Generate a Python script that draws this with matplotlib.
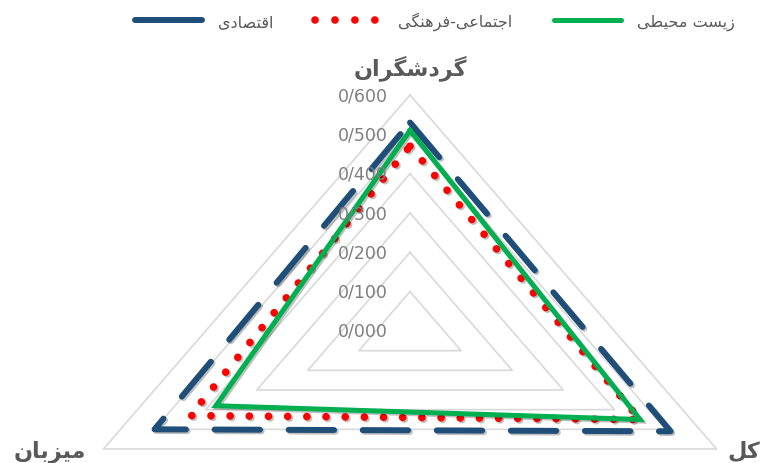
import numpy as np
import matplotlib
matplotlib.use("Agg")
import matplotlib.pyplot as plt
import matplotlib.patheffects as pe
from matplotlib.lines import Line2D

# data
categories = ["گردشگران", "کل", "میزبان"]
series_names = ["اقتصادی", "اجتماعی-فرهنگی", "زیست محیطی"]
eghtesadi = [0.53, 0.51, 0.50]
ejtemaei = [0.47, 0.45, 0.43]
zist = [0.51, 0.45, 0.38]
rings = [0.1, 0.2, 0.3, 0.4, 0.5, 0.6]
ring_labels = ["0/000", "0/100", "0/200", "0/300", "0/400", "0/500", "0/600"]

# minimal arabic/persian shaping (matplotlib does not shape text)
forms = {
    "ا": (0xFE8D, 0xFE8E, None, None),
    "ب": (0xFE8F, 0xFE90, 0xFE91, 0xFE92),
    "ت": (0xFE95, 0xFE96, 0xFE97, 0xFE98),
    "ج": (0xFE9D, 0xFE9E, 0xFE9F, 0xFEA0),
    "ح": (0xFEA1, 0xFEA2, 0xFEA3, 0xFEA4),
    "د": (0xFEA9, 0xFEAA, None, None),
    "ر": (0xFEAD, 0xFEAE, None, None),
    "ز": (0xFEAF, 0xFEB0, None, None),
    "س": (0xFEB1, 0xFEB2, 0xFEB3, 0xFEB4),
    "ش": (0xFEB5, 0xFEB6, 0xFEB7, 0xFEB8),
    "ص": (0xFEB9, 0xFEBA, 0xFEBB, 0xFEBC),
    "ط": (0xFEC1, 0xFEC2, 0xFEC3, 0xFEC4),
    "ع": (0xFEC9, 0xFECA, 0xFECB, 0xFECC),
    "ف": (0xFED1, 0xFED2, 0xFED3, 0xFED4),
    "ق": (0xFED5, 0xFED6, 0xFED7, 0xFED8),
    "ل": (0xFEDD, 0xFEDE, 0xFEDF, 0xFEE0),
    "م": (0xFEE1, 0xFEE2, 0xFEE3, 0xFEE4),
    "ن": (0xFEE5, 0xFEE6, 0xFEE7, 0xFEE8),
    "ه": (0xFEE9, 0xFEEA, 0xFEEB, 0xFEEC),
    "ک": (0xFB8E, 0xFB8F, 0xFB90, 0xFB91),
    "گ": (0xFB92, 0xFB93, 0xFB94, 0xFB95),
    "ی": (0xFBFC, 0xFBFD, 0xFBFE, 0xFBFF),
}


def fa(s):
    out = []
    for i, c in enumerate(s):
        if c not in forms:
            out.append(c)
            continue
        prev = s[i - 1] if i > 0 else None
        nxt = s[i + 1] if i + 1 < len(s) else None
        jp = prev in forms and forms[prev][2] is not None
        jn = nxt in forms and forms[c][2] is not None
        f = forms[c]
        if jp and jn:
            code = f[3]
        elif jp:
            code = f[1]
        elif jn:
            code = f[2]
        else:
            code = f[0]
        out.append(chr(code))
    return "".join(out)[::-1]


fig = plt.figure(figsize=(7.62, 4.64), dpi=100)
ax = fig.add_axes([0, 0, 1, 1])
# stretched radar: 590 px per unit across, 393 px per unit up
ax.set_xlim(-410 / 590, 352 / 590)
ax.set_ylim(-132 / 393.3, 332 / 393.3)
ax.axis("off")

theta = np.deg2rad([0, 120, 240, 0])


def xy(vals):
    v = np.array(list(vals) + [vals[0]])
    return v * np.sin(theta), v * np.cos(theta)


for r in rings:
    x, y = xy([r, r, r])
    ax.plot(x, y, color="#D9D9D9", lw=1.2, zorder=1)

for i, lab in enumerate(ring_labels):
    ax.text(-0.038, i * 0.1, lab, ha="right", va="center", fontsize=12.5,
            color="#7F7F7F", family="DejaVu Sans", zorder=6)

shadow = [pe.SimpleLineShadow(offset=(1.2, -1.2), shadow_color="k", alpha=0.25), pe.Normal()]

x, y = xy(eghtesadi)
ax.plot(x, y, color="#1F4E79", lw=4.3, dashes=(7.6, 4.8), dash_capstyle="round",
        solid_joinstyle="round", zorder=3, path_effects=shadow)
x, y = xy(ejtemaei)
ax.plot(x, y, color="#FF0000", lw=5.5, dashes=(0.01, 2.5), dash_capstyle="round",
        zorder=4, path_effects=shadow)
x, y = xy(zist)
ax.plot(x, y, color="#00B050", lw=3.6, solid_joinstyle="miter", zorder=5,
        path_effects=shadow)

lab_kw = dict(fontsize=16, fontweight="bold", color="#595959", family="DejaVu Sans",
              ha="center", va="center")
ax.text(0, 0.67, fa(categories[0]), **lab_kw)
ax.text(0.566, -0.305, fa(categories[1]), **lab_kw)
ax.text(-0.61, -0.305, fa(categories[2]), **lab_kw)

handles = [
    Line2D([], [], color="#1F4E79", lw=4.3, solid_capstyle="round"),
    Line2D([], [], color="#FF0000", lw=5.5, dashes=(0.01, 2.6), dash_capstyle="round"),
    Line2D([], [], color="#00B050", lw=3.6, solid_capstyle="round"),
]
leg = fig.legend(handles, [fa(s) for s in series_names], loc="center",
                 bbox_to_anchor=(435 / 762, 1 - 22 / 464), ncol=3, frameon=False,
                 handlelength=4.2, columnspacing=2.6, handletextpad=1.0,
                 prop={"family": "DejaVu Sans", "size": 11.5})
for t in leg.get_texts():
    t.set_color("#595959")

fig.savefig("out.png", dpi=100)
